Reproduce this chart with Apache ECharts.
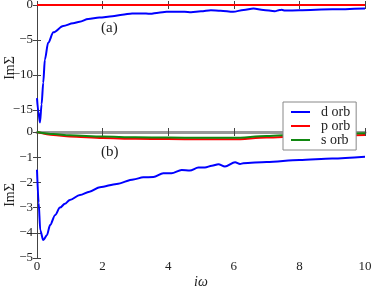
<!DOCTYPE html>
<html><head><meta charset="utf-8">
<script src="https://cdn.jsdelivr.net/npm/echarts@6/dist/echarts.min.js"></script>
<style>html,body{margin:0;padding:0;background:#fff}#c{width:374px;height:288px}</style>
</head><body><div id="c"></div>
<script>
// Panel (a): d orb
const topDX = [0, 0.04, 0.09, 0.14, 0.19, 0.24, 0.34, 0.5, 0.8, 1.1, 1.3, 1.56, 1.9, 2.3, 2.6, 2.9, 3.2, 3.45, 3.7, 3.95, 4.2, 4.5, 4.7, 5.0, 5.3, 5.6, 5.98, 6.3, 6.6, 6.9, 7.25, 7.4, 7.46, 7.56, 8.0, 9.0, 10.0];
const topD  = [-13.3, -15.2, -16.8, -14.2, -11.1, -7.8, -5.4, -3.9, -3.0, -2.6, -2.4, -2.0, -1.8, -1.6, -1.4, -1.2, -1.2, -1.26, -1.1, -0.97, -0.95, -0.97, -1.02, -0.9, -0.74, -0.82, -0.97, -0.7, -0.5, -0.7, -0.88, -0.72, -0.69, -0.79, -0.75, -0.62, -0.5];
// Panel (a): p orb and s orb
const topPX = [0, 10];
const topP  = [0, 0];
const topS  = [0, 0];
// Panel (b): d orb
const botDX = [0, 0.05, 0.1, 0.19, 0.3, 0.4, 0.55, 0.7, 0.85, 1.0, 1.31, 1.6, 1.92, 2.43, 2.94, 3.24, 3.55, 3.85, 4.1, 4.41, 4.66, 4.92, 5.12, 5.33, 5.53, 5.73, 6.04, 6.19, 6.29, 7.0, 8.0, 9.0, 10.0];
const botD  = [-1.5, -2.8, -3.9, -4.29, -4.1, -3.69, -3.3, -3.0, -2.85, -2.7, -2.5, -2.37, -2.19, -2.06, -1.88, -1.8, -1.79, -1.64, -1.64, -1.51, -1.53, -1.41, -1.41, -1.34, -1.28, -1.37, -1.2, -1.27, -1.24, -1.19, -1.11, -1.05, -0.98];
// Panel (b): p orb and s orb
const botPX = [0, 0.5, 1, 2, 3, 4, 5, 6, 7, 8, 9, 10];
const botP  = [0, -0.12, -0.18, -0.24, -0.27, -0.28, -0.29, -0.29, -0.22, -0.17, -0.14, -0.12];
const botS  = [0, -0.08, -0.13, -0.18, -0.21, -0.22, -0.23, -0.23, -0.16, -0.1, -0.07, -0.05];
// Ticks
const xTicks = [0, 2, 4, 6, 8, 10];
const topYTicks = [0, -5, -10, -15];
const botYTicks = [0, -1, -2, -3, -4, -5];

const pairs = (xs, ys) => xs.map((x, i) => [x, ys[i]]);
const FONT = 'Liberation Serif';
const fmt = v => (v < 0 ? '\u2212' + Math.abs(v) : String(v));
const frame = '#444';

function xAx(grid, pos, labels, name) {
  return {
    type: 'value', gridIndex: grid, position: pos, min: 0, max: 10,
    axisLine: { lineStyle: { color: frame, width: 1 } },
    axisTick: { inside: true, length: 4, customValues: xTicks, lineStyle: { color: frame } },
    axisLabel: labels ? { show: true, customValues: xTicks, fontFamily: FONT, fontSize: 13, color: '#222', margin: 2, formatter: fmt } : { show: false },
    splitLine: { show: false },
    name: name || '', nameLocation: 'middle', nameGap: 17, nameMoveOverlap: false,
    nameTextStyle: { fontFamily: FONT, fontStyle: 'italic', fontSize: 14, color: '#222' }
  };
}
function yAx(grid, pos, min, max, ticks, labels, name) {
  return {
    type: 'value', gridIndex: grid, position: pos, min: min, max: max,
    axisLine: { show: true, lineStyle: { color: frame, width: 1 } },
    axisTick: { inside: true, length: 4, customValues: ticks, lineStyle: { color: frame } },
    axisLabel: labels ? { show: true, customValues: ticks, fontFamily: FONT, fontSize: 13, color: '#222', margin: 4, formatter: fmt } : { show: false },
    splitLine: { show: false },
    name: name || '', nameLocation: 'middle', nameGap: 20, nameRotate: 90, nameMoveOverlap: false,
    nameTextStyle: { fontFamily: FONT, fontSize: 14, color: '#222' }
  };
}

const chart = echarts.init(document.getElementById('c'), null, { renderer: 'canvas' });
const line = (name, color, w, xi, yi, data, z, clip) => ({
  name, type: 'line', xAxisIndex: xi, yAxisIndex: yi, data, symbol: 'none',
  smooth: 0.3, smoothMonotone: 'x', lineStyle: { color, width: w }, itemStyle: { color }, z: z || 2,
  clip: clip !== false, animation: false
});

chart.setOption({
  animation: false,
  grid: [
    { left: 37, right: 9, top: 5, height: 126, outerBoundsMode: 'none', containLabel: false },
    { left: 37, right: 9, top: 132, height: 126, outerBoundsMode: 'none', containLabel: false }
  ],
  xAxis: [
    xAx(0, 'bottom', false),
    xAx(0, 'top', false),
    xAx(1, 'bottom', true, 'i\u03C9'),
    Object.assign(xAx(1, 'top', false), { axisLine: { lineStyle: { color: '#999', width: 3 } } })
  ],
  yAxis: [
    yAx(0, 'left', -18, 0, topYTicks, true, 'Im\u03A3'),
    yAx(0, 'right', -18, 0, topYTicks, false),
    yAx(1, 'left', -5, 0, botYTicks, true, 'Im\u03A3'),
    yAx(1, 'right', -5, 0, botYTicks, false)
  ],
  legend: {
    data: ['d orb', 'p orb', 's orb'],
    orient: 'vertical', left: 283, top: 102,
    icon: 'rect',
    itemWidth: 19, itemHeight: 2, itemGap: 0,
    padding: [3, 6, 3, 8],
    backgroundColor: '#fff', borderColor: '#888', borderWidth: 1, borderRadius: 0,
    textStyle: { fontFamily: FONT, fontSize: 14, lineHeight: 13.5, color: '#222', padding: [0, 0, 0, 6] },
    z: 20
  },
  graphic: [
    { type: 'text', left: 101, top: 21, style: { text: '(a)', font: '15px "Liberation Serif"', fill: '#222' } },
    { type: 'text', left: 101, top: 145, style: { text: '(b)', font: '15px "Liberation Serif"', fill: '#222' } }
  ],
  series: [
    line('s orb', '#118811', 1, 0, 0, pairs(topPX, topS), 2),
    line('p orb', '#ff0000', 2, 0, 0, pairs(topPX, topP), 30, false),
    line('d orb', '#0000ff', 2, 0, 0, pairs(topDX, topD), 4),
    line('p orb', '#ff0000', 2, 2, 2, pairs(botPX, botP), 2),
    line('s orb', '#118811', 2, 2, 2, pairs(botPX, botS), 3),
    line('d orb', '#0000ff', 2, 2, 2, pairs(botDX, botD), 4)
  ]
});
</script></body></html>
